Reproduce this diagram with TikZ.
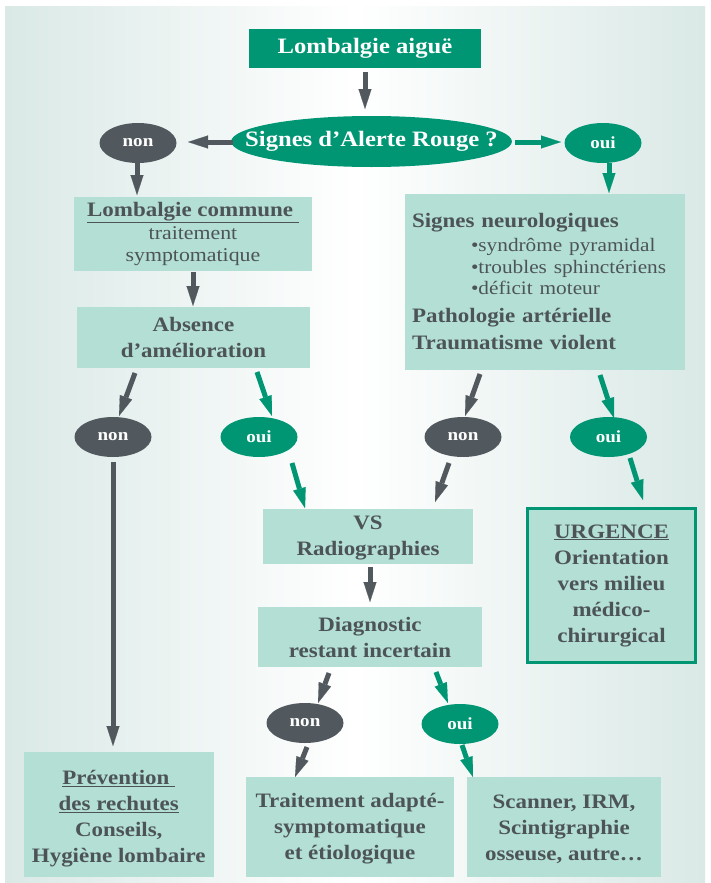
\documentclass[tikz,border=0pt]{standalone}
\usepackage{fontspec}
\setmainfont{Liberation Serif}[FakeStretch=1.12]
\usetikzlibrary{shapes.geometric,arrows.meta}
\definecolor{vert}{HTML}{009674}
\definecolor{gris}{HTML}{52595E}
\definecolor{pale}{HTML}{B3DFD5}
\definecolor{txt}{HTML}{4D5458}
\definecolor{bord}{HTML}{DAE9E6}
\newcommand{\reg}{\mdseries\fontsize{19.5}{22}\selectfont}
\newcommand{\bul}{\hspace*{59pt}\mdseries\fontsize{19}{21.5}\selectfont •}
\newcommand{\bld}{\bfseries\fontsize{20.5}{21.5}\selectfont}
\tikzset{
  tbox/.style={fill=pale, text=txt, align=center, inner sep=0pt,
    font=\bfseries\fontsize{20.5}{26}\selectfont},
  oval/.style={ellipse, inner sep=0pt, minimum width=77pt, minimum height=40pt,
    text=white, font=\bfseries\fontsize{17}{17}\selectfont},
  ovnon/.style={oval, fill=gris},
  ovoui/.style={oval, fill=vert},
  arr/.style={line width=5pt, -{Triangle[length=20pt,width=13pt,line width=0.1pt]}},
  garr/.style={arr, draw=gris},
  varr/.style={arr, draw=vert}
}
\begin{document}
\begin{tikzpicture}[x=1pt,y=-1pt]
\useasboundingbox (0,0) rectangle (710,883);
\fill[white] (0,0) rectangle (710,883);
\shade[left color=bord, right color=bord, middle color=white] (5,7) rectangle (705,882);

% top
\node[fill=vert, text=white, inner sep=0pt, minimum width=232pt, minimum height=39pt,
  font=\bfseries\fontsize{22}{22}\selectfont] (aigue) at (365,48.5) {Lombalgie aiguë};
\node[ellipse, fill=vert, text=white, inner xsep=-27pt, inner ysep=0pt, minimum width=257pt, minimum height=51pt,
  font=\bfseries\fontsize{22}{22}\selectfont] (alerte) at (371.5,141.5) {Signes d’Alerte Rouge ?};
\node[ovnon] (non0) at (138,143) {non};
\node[ovoui] (oui0) at (603,143) {oui};

% boxes
\node[tbox, minimum width=238pt, minimum height=74pt] (lc) at (193,234)
  {\underline{Lombalgie commune\ }\\[-3pt]
   \reg traitement\\[-4pt]
   \reg symptomatique};
\node[tbox, minimum width=233pt, minimum height=61pt] (abs) at (193.5,337.5)
  {Absence\\d’amélioration};
\node[tbox, minimum width=280pt, minimum height=176pt, text width=266pt, align=left] (neuro) at (545,282)
  {\bld Signes neurologiques\\[2.5pt]
   \bul syndrôme pyramidal\\
   \bul troubles sphinctériens\\
   \bul déficit moteur\\[6pt]
   \bld Pathologie artérielle\\[1.5pt]
   \bld Traumatisme violent};

\node[ovnon] (non1) at (113,437) {non};
\node[ovoui] (oui1) at (259,437) {oui};
\node[ovnon] (non2) at (463,437) {non};
\node[ovoui] (oui2) at (608.5,437) {oui};

\node[tbox, minimum width=210pt, minimum height=55pt] (vs) at (368,536.5) {\rule{0pt}{17pt}VS\\Radiographies};
\node[tbox, minimum width=224pt, minimum height=60pt] (diag) at (370,637) {Diagnostic\\restant incertain};
\node[tbox, draw=vert, line width=3pt, minimum width=168pt, minimum height=154pt] (urg) at (611.5,585.5)
  {\underline{URGENCE}\\Orientation\\vers milieu\\médico-\\chirurgical};

\node[ovnon] (non3) at (305,723) {non};
\node[ovoui] (oui3) at (460,724) {oui};

\node[tbox, minimum width=190.5pt, minimum height=125pt] (prev) at (118.75,814.5)
  {\rule{0pt}{22pt}\underline{Prévention\ }\\\underline{des rechutes}\\Conseils,\\Hygiène lombaire};
\node[tbox, minimum width=208pt, minimum height=100pt] (trait) at (350,827)
  {\rule{0pt}{18pt}Traitement adapté-\\symptomatique\\et étiologique};
\node[tbox, minimum width=194pt, minimum height=100pt] (scan) at (564,827)
  {\rule{0pt}{18pt}Scanner, IRM,\\Scintigraphie\\osseuse, autre…};

% arrow ends
\coordinate (a1s) at (365,72);   \coordinate (a1e) at (365,109);
\coordinate (a2s) at (233,142);  \coordinate (a2e) at (188,142);
\coordinate (a3s) at (515,142);  \coordinate (a3e) at (561,142);
\coordinate (a4s) at (137,163);  \coordinate (a4e) at (137,195);
\coordinate (a5s) at (609,163);  \coordinate (a5e) at (609,193);
\coordinate (a6s) at (193,272);  \coordinate (a6e) at (193,306);
\coordinate (a7s) at (135,373);  \coordinate (a7e) at (119,416);
\coordinate (a8s) at (257,372);  \coordinate (a8e) at (272,416);
\coordinate (a9s) at (480,374);  \coordinate (a9e) at (465,416);
\coordinate (a10s) at (600,375); \coordinate (a10e) at (614,418);
\coordinate (a11s) at (113,462); \coordinate (a11e) at (113,746);
\coordinate (a12s) at (292,463); \coordinate (a12e) at (305,508);
\coordinate (a13s) at (449,463); \coordinate (a13e) at (435,502);
\coordinate (a14s) at (630,458); \coordinate (a14e) at (643,500);
\coordinate (a15s) at (370,567); \coordinate (a15e) at (370,602);
\coordinate (a16s) at (329,673); \coordinate (a16e) at (318,703);
\coordinate (a17s) at (436,672); \coordinate (a17e) at (448,703);
\coordinate (a18s) at (307,747); \coordinate (a18e) at (295,777);
\coordinate (a19s) at (462,745); \coordinate (a19e) at (473,777);

\draw[garr] (a1s) -- (a1e);
\draw[garr] (a2s) -- (a2e);
\draw[varr] (a3s) -- (a3e);
\draw[garr] (a4s) -- (a4e);
\draw[varr] (a5s) -- (a5e);
\draw[garr] (a6s) -- (a6e);
\draw[garr] (a7s) -- (a7e);
\draw[varr] (a8s) -- (a8e);
\draw[garr] (a9s) -- (a9e);
\draw[varr] (a10s) -- (a10e);
\draw[garr] (a11s) -- (a11e);
\draw[varr] (a12s) -- (a12e);
\draw[garr] (a13s) -- (a13e);
\draw[varr] (a14s) -- (a14e);
\draw[garr] (a15s) -- (a15e);
\draw[garr] (a16s) -- (a16e);
\draw[varr] (a17s) -- (a17e);
\draw[garr] (a18s) -- (a18e);
\draw[varr] (a19s) -- (a19e);
\end{tikzpicture}
\end{document}
